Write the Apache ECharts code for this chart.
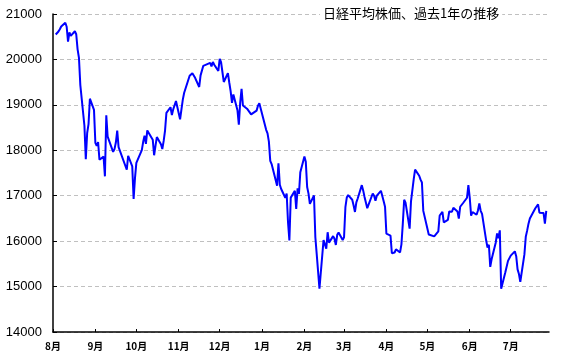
<!DOCTYPE html>
<html><head><meta charset="utf-8">
<script src="https://cdn.jsdelivr.net/npm/echarts@6/dist/echarts.min.js"></script>
<style>html,body{margin:0;padding:0;background:#fff}#c{width:567px;height:360px}</style>
</head><body><div id="c"></div>
<script>
const titleText = '日経平均株価、過去1年の推移';
const axisStart = '2015-08-01';
const axisEnd = '2016-07-29';
const monthTicks = ['2015-08-01','2015-09-01','2015-10-01','2015-11-01','2015-12-01','2016-01-01','2016-02-01','2016-03-01','2016-04-01','2016-05-01','2016-06-01','2016-07-01'];
const yTicks = [14000,15000,16000,17000,18000,19000,20000,21000];

const dates = [
'2015-08-03','2015-08-04','2015-08-05','2015-08-06','2015-08-07','2015-08-10','2015-08-11','2015-08-12','2015-08-13','2015-08-14',
'2015-08-17','2015-08-18','2015-08-19','2015-08-20','2015-08-21','2015-08-24','2015-08-25','2015-08-26','2015-08-27','2015-08-28','2015-08-31',
'2015-09-01','2015-09-02','2015-09-03','2015-09-04','2015-09-07','2015-09-08','2015-09-09','2015-09-10','2015-09-11','2015-09-14',
'2015-09-15','2015-09-16','2015-09-17','2015-09-18','2015-09-24','2015-09-25','2015-09-28','2015-09-29','2015-09-30',
'2015-10-01','2015-10-02','2015-10-05','2015-10-06','2015-10-07','2015-10-08','2015-10-09','2015-10-13','2015-10-14','2015-10-15',
'2015-10-16','2015-10-19','2015-10-20','2015-10-21','2015-10-22','2015-10-23','2015-10-26','2015-10-27','2015-10-28','2015-10-29','2015-10-30',
'2015-11-02','2015-11-04','2015-11-05','2015-11-06','2015-11-09','2015-11-10','2015-11-11','2015-11-12','2015-11-13','2015-11-16',
'2015-11-17','2015-11-18','2015-11-19','2015-11-20','2015-11-24','2015-11-25','2015-11-26','2015-11-27','2015-11-30',
'2015-12-01','2015-12-02','2015-12-03','2015-12-04','2015-12-07','2015-12-08','2015-12-09','2015-12-10','2015-12-11','2015-12-14',
'2015-12-15','2015-12-16','2015-12-17','2015-12-18','2015-12-21','2015-12-22','2015-12-24','2015-12-25','2015-12-28','2015-12-29','2015-12-30',
'2016-01-04','2016-01-05','2016-01-06','2016-01-07','2016-01-08','2016-01-12','2016-01-13','2016-01-14','2016-01-15','2016-01-18',
'2016-01-19','2016-01-20','2016-01-21','2016-01-22','2016-01-25','2016-01-26','2016-01-27','2016-01-28','2016-01-29',
'2016-02-01','2016-02-02','2016-02-03','2016-02-04','2016-02-05','2016-02-08','2016-02-09','2016-02-10','2016-02-12','2016-02-15',
'2016-02-16','2016-02-17','2016-02-18','2016-02-19','2016-02-22','2016-02-23','2016-02-24','2016-02-25','2016-02-26','2016-02-29',
'2016-03-01','2016-03-02','2016-03-03','2016-03-04','2016-03-07','2016-03-08','2016-03-09','2016-03-10','2016-03-11','2016-03-14',
'2016-03-15','2016-03-16','2016-03-17','2016-03-18','2016-03-22','2016-03-23','2016-03-24','2016-03-25','2016-03-28','2016-03-29','2016-03-30','2016-03-31',
'2016-04-01','2016-04-04','2016-04-05','2016-04-06','2016-04-07','2016-04-08','2016-04-11','2016-04-12','2016-04-13','2016-04-14',
'2016-04-15','2016-04-18','2016-04-19','2016-04-20','2016-04-21','2016-04-22','2016-04-25','2016-04-26','2016-04-27','2016-04-28',
'2016-05-02','2016-05-06','2016-05-09','2016-05-10','2016-05-11','2016-05-12','2016-05-13','2016-05-16','2016-05-17','2016-05-18',
'2016-05-19','2016-05-20','2016-05-23','2016-05-24','2016-05-25','2016-05-26','2016-05-27','2016-05-30','2016-05-31',
'2016-06-01','2016-06-02','2016-06-03','2016-06-06','2016-06-07','2016-06-08','2016-06-09','2016-06-10','2016-06-13','2016-06-14',
'2016-06-15','2016-06-16','2016-06-17','2016-06-20','2016-06-21','2016-06-22','2016-06-23','2016-06-24','2016-06-27','2016-06-28','2016-06-29','2016-06-30',
'2016-07-01','2016-07-04','2016-07-05','2016-07-06','2016-07-07','2016-07-08','2016-07-11','2016-07-12','2016-07-13','2016-07-14',
'2016-07-15','2016-07-19','2016-07-20','2016-07-21','2016-07-22','2016-07-25','2016-07-26','2016-07-27'
];
const values = [
20548,20520,20614,20664,20724,20808,20720,20392,20595,20519,
20620,20554,20222,20033,19435,18540,17806,18376,18574,19136,18890,
18165,18095,18182,17792,17860,17427,18770,18299,18264,17965,
18026,18171,18432,18070,17571,17880,17645,16930,17388,
17722,17725,18005,18186,18322,18141,18438,18234,17891,18097,
18291,18131,18029,18207,18435,18825,18947,18777,18903,18935,19083,
18683,19116,19265,19265,19642,19671,19697,19697,19596,19393,
19649,19649,19859,19879,19925,19847,19944,19883,19747,
20012,19938,19939,19504,19698,19492,19301,19046,19230,18883,
18565,19050,19353,18986,18916,18886,18789,18769,18873,18982,19033,
18450,18374,18191,17767,17697,17218,17715,17240,17147,16955,
17048,16416,16017,16958,17110,16708,17163,17041,17518,
17865,17750,17191,17045,16820,17004,16085,15713,14952,16022,
16054,15836,16196,15967,16111,16052,15916,16140,16188,16027,
16085,16747,16960,17015,16911,16784,16642,16852,16939,17233,
17117,16974,16936,16725,17049,17000,16892,17002,17107,17134,16878,16759,
16164,16123,15733,15715,15750,15821,15751,15929,16381,16911,
16848,16276,16875,16906,17363,17573,17440,17353,17290,16666,
16147,16106,16216,16565,16579,16646,16412,16467,16652,16644,
16646,16736,16654,16498,16757,16772,16834,16955,17234,
16955,16562,16642,16580,16675,16830,16668,16601,16019,15859,
15919,15434,15599,15965,16169,16065,16238,14952,15309,15323,15566,15575,
15682,15775,15669,15378,15276,15106,15708,16095,16231,16385,
16497,16723,16681,16811,16627,16620,16383,16664
];

function ts(s){ const p = s.split('-').map(Number); return new Date(p[0], p[1]-1, p[2]).getTime(); }
const monthTickTs = monthTicks.map(ts);
const seriesData = dates.map((d,i)=>[ts(d), values[i]]);

const chart = echarts.init(document.getElementById('c'), null, {renderer:'canvas'});
chart.setOption({
  animation:false,
  backgroundColor:'#fff',
  title:{
    text:titleText, left:320, top:6, padding:[1,3],
    backgroundColor:'#fff',
    textStyle:{fontSize:13, fontWeight:'normal', color:'#000', fontFamily:'Noto Sans CJK JP'}
  },
  grid:{left:53, right:18, top:14, bottom:28, containLabel:false},
  xAxis:{
    type:'value', min:ts(axisStart), max:ts(axisEnd),
    axisLine:{lineStyle:{color:'#000', width:1.5}},
    axisTick:{show:true, inside:true, length:3, customValues:monthTickTs, lineStyle:{color:'#000'}},
    axisLabel:{customValues:monthTickTs, margin:9, fontSize:10, fontWeight:'bold', color:'#000', fontFamily:'Noto Sans CJK JP',
      formatter:(v)=> (new Date(v).getMonth()+1)+'月', hideOverlap:false, showMinLabel:true},
    splitLine:{show:false}
  },
  yAxis:{
    type:'value', min:14000, max:21000, interval:1000,
    axisLine:{show:true, lineStyle:{color:'#000', width:1.5}},
    axisTick:{show:true, inside:true, length:4, lineStyle:{color:'#000'}},
    axisLabel:{fontSize:13, color:'#000', margin:11, fontFamily:'Liberation Sans',
      formatter:(v)=> yTicks.includes(v) ? String(v) : ''},
    splitLine:{show:true, lineStyle:{color:'#c0c0c0', type:[4,3], width:1}}
  },
  series:[{
    type:'line', data:seriesData, showSymbol:false, symbol:'none',
    lineStyle:{color:'#0000ff', width:2}, clip:true
  }]
});
</script></body></html>
